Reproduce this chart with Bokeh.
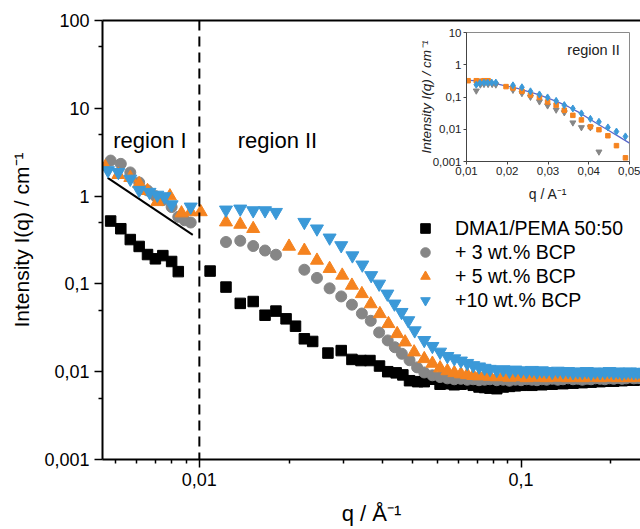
from bokeh.plotting import figure
from bokeh.models import (FixedTicker, CustomJSTickFormatter, Span, Label, Legend,
                          LegendItem, LogAxis, Range1d)
from bokeh.layouts import column
from bokeh.embed import file_html
from bokeh.resources import INLINE

FONT = "Liberation Sans"
GRAY = "#868686"
ORANGE = "#f5831f"
BLUE = "#3b99d8"
FIT = "#5a6acd"

# ---------------- main plot data ----------------
q_band = [0.050, 0.053, 0.056, 0.059, 0.062, 0.065, 0.068, 0.071, 0.074, 0.077,
          0.080, 0.084, 0.088, 0.092, 0.096, 0.100, 0.104, 0.108, 0.112, 0.116,
          0.120, 0.125, 0.130, 0.135, 0.140, 0.145, 0.150, 0.155, 0.160, 0.165,
          0.170, 0.176, 0.182, 0.188, 0.194, 0.200, 0.206, 0.212, 0.218, 0.224,
          0.230, 0.236, 0.242]

black_q = [0.0053, 0.0057, 0.0061, 0.0065, 0.0069, 0.0073, 0.0077, 0.0082, 0.0086,
           0.0108, 0.0121, 0.0134, 0.0147, 0.0160, 0.0173, 0.0186, 0.0199, 0.0212, 0.0225,
           0.0251, 0.0276, 0.0298, 0.0318, 0.0339, 0.0363, 0.0385, 0.0409, 0.0429, 0.0450,
           0.0477] + q_band
black_I = [0.52, 0.425, 0.32, 0.267, 0.216, 0.193, 0.21, 0.18, 0.138,
           0.14, 0.092, 0.060, 0.063, 0.044, 0.049, 0.040, 0.033, 0.0237, 0.0221,
           0.0163, 0.0174, 0.0138, 0.0134, 0.0134, 0.0116, 0.0100, 0.0097, 0.0092, 0.0079,
           0.0077] + [
           0.0077, 0.0082, 0.0072, 0.0073, 0.0071, 0.0072, 0.0073, 0.0070, 0.0067, 0.0066,
           0.0065, 0.0064, 0.0067, 0.0068, 0.0069, 0.0070, 0.0071, 0.0070, 0.0072, 0.0071,
           0.0073, 0.0072, 0.0074, 0.0073, 0.0075, 0.0074, 0.0076, 0.0075, 0.0077, 0.0076,
           0.0078, 0.0077, 0.0078, 0.0079, 0.0078, 0.0080, 0.0079, 0.0080, 0.0081, 0.0080,
           0.0081, 0.0082, 0.0081]

gray_q = [0.0053, 0.0057, 0.0061, 0.0065, 0.0069, 0.0073, 0.0077, 0.0082, 0.0086, 0.0090, 0.0094,
          0.0121, 0.0134, 0.0147, 0.0160, 0.0173, 0.0212, 0.0232, 0.0254, 0.0276, 0.0298,
          0.0320, 0.0341, 0.0362, 0.0385, 0.0405, 0.0426, 0.0450, 0.0475] + q_band
gray_I = [2.54, 2.33, 1.86, 1.43, 1.16, 1.0, 0.90, 0.75, 0.58, 0.53, 0.50,
          0.30, 0.31, 0.27, 0.24, 0.215, 0.145, 0.117, 0.089, 0.072, 0.058,
          0.046, 0.038, 0.028, 0.0227, 0.019, 0.016, 0.0135, 0.0112] + [
          0.0098, 0.0091, 0.0087, 0.0084, 0.0082, 0.0083, 0.0081, 0.0082, 0.0080, 0.0081,
          0.0082, 0.0080, 0.0081, 0.0079, 0.0081, 0.0080, 0.0082, 0.0081, 0.0080, 0.0082,
          0.0081, 0.0083, 0.0081, 0.0082, 0.0084, 0.0082, 0.0083, 0.0081, 0.0083, 0.0082,
          0.0084, 0.0083, 0.0082, 0.0084, 0.0083, 0.0085, 0.0083, 0.0084, 0.0086, 0.0084,
          0.0085, 0.0084, 0.0086]

orange_q = [0.0051, 0.0056, 0.0061, 0.0065, 0.0069, 0.0074, 0.0081, 0.0088, 0.0094, 0.0101,
            0.0121, 0.0134, 0.0147, 0.0190, 0.0212, 0.0232, 0.0254, 0.0278, 0.0298, 0.0320,
            0.0341, 0.0364, 0.0387, 0.0412, 0.0436, 0.0465] + q_band
orange_I = [2.15, 1.75, 1.62, 1.38, 1.15, 0.86, 1.0, 0.64, 0.66, 0.66,
            0.505, 0.475, 0.425, 0.267, 0.24, 0.185, 0.149, 0.125, 0.096, 0.077,
            0.059, 0.0456, 0.0351, 0.027, 0.0217, 0.0167] + [
            0.0140, 0.0124, 0.0110, 0.0102, 0.0097, 0.0094, 0.0092, 0.0090, 0.0089, 0.0091,
            0.0088, 0.0087, 0.0089, 0.0086, 0.0088, 0.0087, 0.0085, 0.0088, 0.0086, 0.0087,
            0.0085, 0.0089, 0.0086, 0.0087, 0.0085, 0.0086, 0.0088, 0.0085, 0.0087, 0.0086,
            0.0089, 0.0085, 0.0087, 0.0086, 0.0088, 0.0085, 0.0087, 0.0086, 0.0085, 0.0087,
            0.0086, 0.0088, 0.0086]

blue_q = [0.0052, 0.0056, 0.0061, 0.0065, 0.0070, 0.0074, 0.0078, 0.0082, 0.0094,
          0.0121, 0.0134, 0.0147, 0.0160, 0.0173, 0.0212, 0.0232, 0.0254, 0.0276, 0.0299,
          0.0321, 0.0342, 0.0362, 0.0384, 0.0404, 0.0425, 0.0446, 0.0467] + q_band
blue_I = [1.96, 1.87, 1.57, 1.17, 1.11, 1.03, 0.99, 0.80, 0.755,
          0.698, 0.716, 0.685, 0.685, 0.656, 0.505, 0.425, 0.335, 0.274, 0.21,
          0.165, 0.125, 0.100, 0.077, 0.0593, 0.0476, 0.0383, 0.0294] + [
          0.0228, 0.0195, 0.0168, 0.0150, 0.0141, 0.0133, 0.0125, 0.0118, 0.0114, 0.0110,
          0.0107, 0.0104, 0.0106, 0.0102, 0.0105, 0.0103, 0.0101, 0.0104, 0.0100, 0.0103,
          0.0101, 0.0099, 0.0102, 0.0100, 0.0101, 0.0098, 0.0100, 0.0099, 0.0101, 0.0097,
          0.0100, 0.0098, 0.0099, 0.0101, 0.0098, 0.0100, 0.0097, 0.0099, 0.0100, 0.0098,
          0.0099, 0.0097, 0.0099]

slope_q = [0.00519, 0.00954]
slope_I = [1.61, 0.362]
boundary_q = 0.01

series_labels = ["DMA1/PEMA 50:50", "+ 3 wt.% BCP", "+ 5 wt.% BCP", "+10 wt.% BCP"]

x_major = [0.01, 0.1]
x_minor = [0.0055, 0.0064, 0.0073, 0.0082, 0.0091,
           0.019, 0.028, 0.037, 0.046, 0.055, 0.064, 0.073, 0.082, 0.091, 0.19]
y_major = [0.001, 0.01, 0.1, 1, 10, 100]
y_minor = [0.005, 0.05, 0.5, 5, 50]

# ---------------- inset data ----------------
ins_blue_q = [0.0124, 0.0133, 0.0143, 0.0152, 0.0162, 0.0172, 0.0214, 0.0236, 0.0257, 0.0279,
              0.0299, 0.0320, 0.0340, 0.0361, 0.0382, 0.0404, 0.0425, 0.0447, 0.0468, 0.0490]
ins_blue_I = [0.24, 0.27, 0.28, 0.28, 0.28, 0.28, 0.23, 0.20, 0.15, 0.12,
              0.097, 0.076, 0.056, 0.044, 0.031, 0.021, 0.017, 0.0114, 0.0085, 0.0060]
ins_orange_q = [0.0104, 0.0124, 0.0133, 0.0143, 0.0153, 0.0197, 0.0214, 0.0236, 0.0257, 0.0279,
                0.0299, 0.0320, 0.0340, 0.0361, 0.0382, 0.0404, 0.0425, 0.0447, 0.0468, 0.0490]
ins_orange_I = [0.32, 0.32, 0.31, 0.32, 0.32, 0.21, 0.19, 0.15, 0.115, 0.097,
                0.070, 0.056, 0.039, 0.027, 0.0195, 0.012, 0.0097, 0.0063, 0.0031, 0.0013]
ins_gray_q = [0.0124, 0.0134, 0.0143, 0.0153, 0.0163, 0.0172, 0.0214, 0.0236, 0.0257, 0.0279,
              0.0299, 0.0320, 0.0340, 0.0361, 0.0382, 0.0404, 0.0425]
ins_gray_I = [0.156, 0.24, 0.25, 0.25, 0.25, 0.24, 0.165, 0.13, 0.10, 0.072,
              0.054, 0.040, 0.033, 0.016, 0.0114, 0.0114, 0.0020]
fit_q = [0.0100, 0.0125, 0.0150, 0.0175, 0.0200, 0.0225, 0.0250, 0.0275, 0.0300,
         0.0325, 0.0350, 0.0375, 0.0400, 0.0425, 0.0450, 0.0475, 0.0500]
fit_I = [0.335, 0.315, 0.285, 0.255, 0.215, 0.185, 0.150, 0.120, 0.092,
         0.069, 0.050, 0.034, 0.0215, 0.0138, 0.0090, 0.0058, 0.0037]
ins_x_ticks = [0.01, 0.02, 0.03, 0.04, 0.05]
ins_y_ticks = [0.001, 0.01, 0.1, 1, 10]

comma_fmt = "return tick.toString().replace('.', ',')"

# ---------------- main figure ----------------
p = figure(width=640, height=529, x_axis_type="log", y_axis_type="log",
           x_range=Range1d(0.005, 0.235), y_range=Range1d(0.001, 100),
           output_backend="svg", toolbar_location=None,
           min_border_left=102, min_border_right=0, min_border_top=20, min_border_bottom=70)
p.frame_align = False
p.outline_line_color = None
p.background_fill_color = None
p.border_fill_color = None
p.xgrid.grid_line_color = None
p.ygrid.grid_line_color = None

p.xaxis.ticker = FixedTicker(ticks=x_major, minor_ticks=x_minor)
p.yaxis.ticker = FixedTicker(ticks=y_major, minor_ticks=y_minor)
for ax in [p.xaxis[0], p.yaxis[0]]:
    ax.formatter = CustomJSTickFormatter(code=comma_fmt)
    ax.axis_line_width = 2
    ax.axis_line_color = "black"
    ax.major_tick_line_width = 1.5
    ax.major_tick_line_color = "black"
    ax.minor_tick_line_width = 1.5
    ax.minor_tick_line_color = "black"
    ax.major_tick_out = 8
    ax.major_tick_in = 0
    ax.minor_tick_out = 4
    ax.minor_tick_in = 0
    ax.major_label_text_font = FONT
    ax.major_label_text_font_size = "18px"
    ax.major_label_text_color = "black"
    ax.axis_label_text_font = FONT
    ax.axis_label_text_font_style = "normal"
    ax.axis_label_text_color = "black"
p.xaxis.major_label_standoff = 5
p.yaxis.major_label_standoff = 5
p.xaxis.axis_label = "q / \u00c5\u207b\u00b9"
p.xaxis.axis_label_text_font_size = "22px"
p.xaxis.axis_label_standoff = 12
p.yaxis.axis_label = "Intensity I(q) / cm\u207b\u00b9"
p.yaxis.axis_label_text_font_size = "21px"
p.yaxis.axis_label_standoff = 8

top = LogAxis(ticker=FixedTicker(ticks=[]), axis_line_width=2, axis_line_color="black",
              major_tick_out=0, major_tick_in=0, minor_tick_out=0, minor_tick_in=0,
              major_label_text_font_size="0px")
p.add_layout(top, "above")

p.add_layout(Span(location=boundary_q, dimension="height", line_color="black",
                  line_width=2, line_dash="10 6"))
p.line(slope_q, slope_I, line_color="black", line_width=2)

r_black = p.scatter(black_q, black_I, marker="square", size=10.5, color="black")
r_gray = p.scatter(gray_q, gray_I, marker="circle", size=11, color=GRAY)
r_orange = p.scatter(orange_q, orange_I, marker="triangle", size=13, color=ORANGE)
r_blue = p.scatter(blue_q, blue_I, marker="inverted_triangle", size=13, color=BLUE)

legend = Legend(items=[LegendItem(label=series_labels[0], renderers=[r_black]),
                       LegendItem(label=series_labels[1], renderers=[r_gray]),
                       LegendItem(label=series_labels[2], renderers=[r_orange]),
                       LegendItem(label=series_labels[3], renderers=[r_blue])],
                location=(311, 147), glyph_width=24, glyph_height=24, spacing=0,
                label_standoff=18, padding=0, margin=0,
                label_text_font=FONT, label_text_font_size="19.5px",
                label_text_color="black", border_line_alpha=0, background_fill_alpha=0)
p.add_layout(legend)

p.add_layout(Label(x=0.0054, y=4.3, text="region I", text_font=FONT,
                   text_font_size="22px", text_baseline="alphabetic", text_color="black"))
p.add_layout(Label(x=0.01316, y=4.3, text="region II", text_font=FONT,
                   text_font_size="22px", text_baseline="alphabetic", text_color="black"))

# ---------------- inset figure ----------------
ins = figure(width=236, height=183, y_axis_type="log",
             x_range=Range1d(0.01, 0.05), y_range=Range1d(0.001, 10),
             output_backend="svg", toolbar_location=None,
             min_border_left=62, min_border_right=11, min_border_top=10, min_border_bottom=44)
ins.frame_align = False
ins.outline_line_color = "#8a8a8a"
ins.outline_line_width = 1
ins.background_fill_color = "white"
ins.border_fill_color = None
ins.xgrid.grid_line_color = None
ins.ygrid.grid_line_color = None
ins.xaxis.ticker = FixedTicker(ticks=ins_x_ticks)
ins.yaxis.ticker = FixedTicker(ticks=ins_y_ticks)
for ax in [ins.xaxis[0], ins.yaxis[0]]:
    ax.formatter = CustomJSTickFormatter(code=comma_fmt)
    ax.axis_line_color = "#444444"
    ax.axis_line_width = 1
    ax.major_tick_line_color = "#444444"
    ax.major_tick_out = 3
    ax.major_tick_in = 0
    ax.minor_tick_out = 0
    ax.minor_tick_in = 0
    ax.major_label_standoff = 2
    ax.major_label_text_font = FONT
    ax.major_label_text_font_size = "11.5px"
    ax.major_label_text_color = "#222222"
    ax.axis_label_text_font = FONT
    ax.axis_label_text_color = "#222222"
ins.xaxis.axis_label = "q / A\u207b\u00b9"
ins.xaxis.axis_label_text_font_size = "14px"
ins.xaxis.axis_label_text_font_style = "normal"
ins.xaxis.axis_label_standoff = 8
ins.yaxis.axis_label = "Intensity I(q) / cm\u207b\u00b9"
ins.yaxis.axis_label_text_font_size = "13.5px"
ins.yaxis.axis_label_text_font_style = "italic"
ins.yaxis.axis_label_standoff = -4

ins.line(fit_q, fit_I, line_color=FIT, line_width=1.3)
ins.scatter(ins_gray_q, ins_gray_I, marker="inverted_triangle", size=6, color=GRAY)
ins.scatter(ins_orange_q, ins_orange_I, marker="square", size=4.5, color=ORANGE)
ins.scatter(ins_blue_q, ins_blue_I, marker="diamond", size=7, color=BLUE)
ins.add_layout(Label(x=0.0476, y=2.85, text="region II", text_font=FONT,
                     text_font_size="14.5px", text_align="right",
                     text_baseline="alphabetic", text_color="#222222"))

# inset drawn first, main plot (transparent) overlaid on top
ins.margin = (22, 0, 0, 404)
p.margin = (-(22 + 183), 0, 0, 0)
layout = column(ins, p)

open("out.html", "w").write(file_html(layout, INLINE))
